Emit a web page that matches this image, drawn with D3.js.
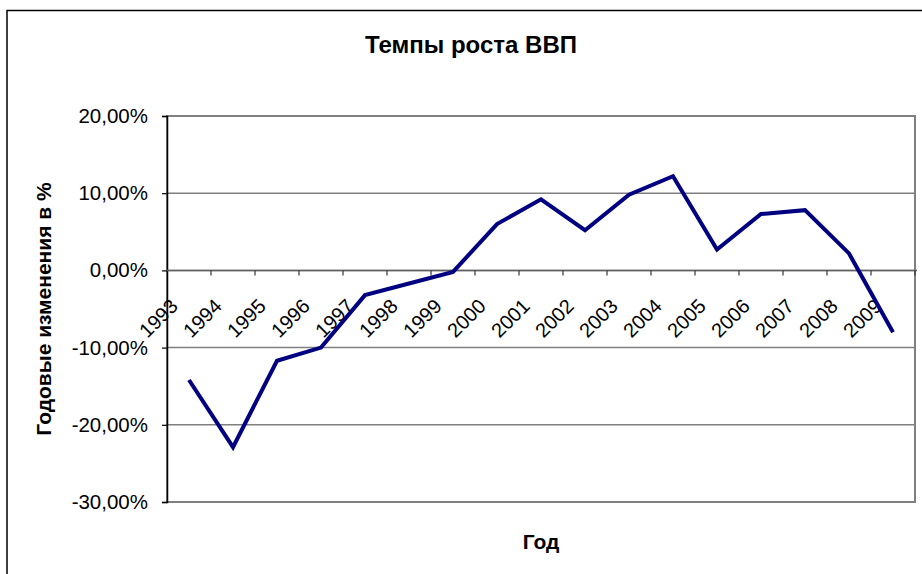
<!DOCTYPE html>
<html><head><meta charset="utf-8">
<script src="https://cdn.jsdelivr.net/npm/d3@7"></script>
<style>
html,body{margin:0;padding:0;background:#fff;}
text{font-family:"Liberation Sans",Arial,sans-serif;}
</style></head>
<body>
<svg id="chart" width="922" height="574"></svg>
<script>
const years = ["1993","1994","1995","1996","1997","1998","1999","2000","2001","2002","2003","2004","2005","2006","2007","2008","2009"];
const growth = [-14.2,-22.9,-11.7,-10.0,-3.2,-1.7,-0.2,6.0,9.2,5.2,9.8,12.2,2.7,7.3,7.8,2.2,-8.0];
const yTicks = [-30,-20,-10,0,10,20];
const yTickLabels = ["-30,00%","-20,00%","-10,00%","0,00%","10,00%","20,00%"];
const title = "Темпы роста ВВП";
const xTitle = "Год";
const yTitle = "Годовые изменения в %";

const svg = d3.select("#chart");
const L = 167, R = 915, T = 116, B = 502;

// outer chart border
svg.append("rect").attr("x",7).attr("y",10.5).attr("width",940).attr("height",600)
  .attr("fill","#fff").attr("stroke","#000").attr("stroke-width",1.5);

const x = d3.scaleBand().domain(years).range([L,R]).paddingInner(0).paddingOuter(0);
const y = d3.scaleLinear().domain([-30,20]).range([B,T]);

// plot area
svg.append("rect").attr("x",L).attr("y",T).attr("width",R-L).attr("height",B-T)
  .attr("fill","#fff").attr("stroke","#808080").attr("stroke-width",2);

// gridlines
svg.append("g").selectAll("line").data(yTicks).join("line")
  .attr("x1",L).attr("x2",R).attr("y1",d=>y(d)).attr("y2",d=>y(d))
  .attr("stroke","#808080").attr("stroke-width",1.5);

// y axis
const yAxis = d3.axisLeft(y).tickValues(yTicks).tickSize(5).tickPadding(14)
  .tickFormat((d,i)=>yTickLabels[i]);
const gy = svg.append("g").attr("transform",`translate(${L},0)`).call(yAxis);
gy.select(".domain").attr("stroke","#000").attr("stroke-width",1.5);
gy.selectAll(".tick line").attr("stroke","#000").attr("stroke-width",1.2);
gy.selectAll(".tick text").attr("font-size",20.5).attr("fill","#000")
  .attr("font-family","'Liberation Sans',Arial,sans-serif");

// x axis at 0
const boundaries = years.map(d=>x(d)).concat([R]);
const gx = svg.append("g");
gx.append("line").attr("x1",L).attr("x2",R+2).attr("y1",y(0)).attr("y2",y(0))
  .attr("stroke","#606060").attr("stroke-width",1.5);
gx.selectAll("line.tk").data(boundaries.slice(1)).join("line").attr("class","tk")
  .attr("x1",d=>d).attr("x2",d=>d).attr("y1",y(0)).attr("y2",y(0)+5)
  .attr("stroke","#333").attr("stroke-width",1.2);
gx.selectAll("text").data(years).join("text")
  .attr("transform",d=>`translate(${x(d)+x.bandwidth()/2-10},${y(0)+37}) rotate(-45)`)
  .attr("text-anchor","end").attr("font-size",20).attr("fill","#000").text(d=>d);

// line
const line = d3.line().x((d,i)=>x(years[i])+x.bandwidth()/2).y(d=>y(d));
svg.append("path").datum(growth).attr("d",line).attr("fill","none")
  .attr("stroke","#000080").attr("stroke-width",4).attr("stroke-linejoin","miter");

// titles
svg.append("text").attr("x",471).attr("y",53).attr("text-anchor","middle")
  .attr("font-size",24).attr("font-weight","bold").text(title);
svg.append("text").attr("x",(L+R)/2).attr("y",549).attr("text-anchor","middle")
  .attr("font-size",21).attr("font-weight","bold").text(xTitle);
svg.append("text").attr("transform",`translate(51,${(T+B)/2}) rotate(-90)`)
  .attr("text-anchor","middle").attr("font-size",21).attr("font-weight","bold").text(yTitle);
</script>
</body></html>
